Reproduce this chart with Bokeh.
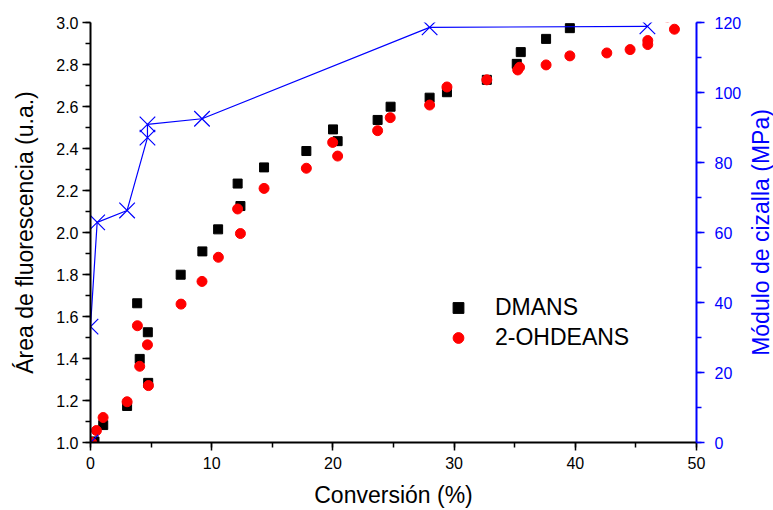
import math
from bokeh.plotting import figure
from bokeh.layouts import row
from bokeh.models import (Range1d, LinearAxis, SingleIntervalTicker,
                          PrintfTickFormatter, Legend, LegendItem)
from bokeh.core.properties import value
from bokeh.embed import file_html
from bokeh.resources import INLINE

# ---- data ----
conv_dmans = [0.33, 1.05, 3.02, 3.85, 4.06, 4.73, 4.76, 7.44, 9.23, 10.53,
              12.14, 12.37, 14.32, 17.81, 20.01, 20.39, 23.69, 24.76, 27.98,
              29.41, 32.7, 35.17, 35.5, 37.59, 39.55]
area_dmans = [1.005, 1.083, 1.174, 1.663, 1.398, 1.525, 1.284, 1.799, 1.910,
              2.015, 2.233, 2.126, 2.310, 2.388, 2.491, 2.435, 2.536, 2.599,
              2.642, 2.668, 2.727, 2.803, 2.859, 2.922, 2.973]

conv_oh = [0.1, 0.49, 1.04, 3.02, 3.87, 4.06, 4.70, 4.78, 7.47, 9.20, 10.55,
           12.37, 12.14, 14.32, 17.81, 19.98, 20.39, 23.69, 24.73, 27.98,
           29.41, 32.7, 35.25, 35.4, 37.59, 39.55, 42.6, 44.52, 45.98, 45.98,
           48.18, 47.6]
area_oh = [1.0, 1.057, 1.119, 1.194, 1.556, 1.363, 1.465, 1.271, 1.659, 1.767,
           1.882, 1.995, 2.112, 2.21, 2.306, 2.429, 2.364, 2.485, 2.547, 2.607,
           2.693, 2.727, 2.774, 2.787, 2.798, 2.841, 2.855, 2.871, 2.914, 2.895,
           2.968, 3.026]

conv_mod = [0, 0, 0.55, 3.02, 4.7, 4.7, 9.2, 27.98, 45.95]
modulus = [0, 33.1, 62.9, 66.3, 87.1, 90.9, 92.5, 118.6, 118.9]

x_label = "Conversión (%)"
y_label = "Área de fluorescencia (u.a.)"
y2_label = "Módulo de cizalla (MPa)"

FONT = "Liberation Sans"
BLUE = "#0000FF"

p = figure(width=745, height=510, output_backend="svg", toolbar_location=None,
           x_range=Range1d(0, 50), y_range=Range1d(1.0, 3.0),
           min_border_left=90, min_border_right=49, min_border_top=22,
           min_border_bottom=68)
p.extra_y_ranges = {"mod": Range1d(0, 120)}
p.grid.visible = False
p.outline_line_color = None
p.background_fill_color = "white"
p.border_fill_color = "white"

sq = p.scatter(conv_dmans, area_dmans, marker="square", size=9,
               fill_color="black", line_color="black")
ci = p.scatter(conv_oh, area_oh, marker="circle", size=10,
               fill_color="red", line_color="red")
p.line(conv_mod, modulus, y_range_name="mod", line_color=BLUE, line_width=1.2)
p.scatter(conv_mod, modulus, y_range_name="mod", marker="x", size=22,
          line_color=BLUE, line_width=1.2)


def style(ax, color):
    ax.axis_line_color = color
    ax.axis_line_width = 2
    ax.major_tick_line_color = color
    ax.minor_tick_line_color = color
    ax.major_tick_line_width = 1.5
    ax.minor_tick_line_width = 1.5
    ax.major_tick_out = 8
    ax.major_tick_in = 0
    ax.minor_tick_out = 5
    ax.minor_tick_in = 0
    ax.major_label_text_font = FONT
    ax.major_label_text_font_size = "16px"
    ax.major_label_text_color = color
    ax.axis_label_text_font = FONT
    ax.axis_label_text_font_size = "23px"
    ax.axis_label_text_font_style = "normal"
    ax.axis_label_text_color = color


xa = p.xaxis[0]
xa.ticker = SingleIntervalTicker(interval=10, num_minor_ticks=2)
xa.axis_label = x_label
style(xa, "black")
xa.major_label_standoff = 6
xa.axis_label_standoff = 10

ya = p.yaxis[0]
ya.ticker = SingleIntervalTicker(interval=0.2, num_minor_ticks=2)
ya.formatter = PrintfTickFormatter(format="%.1f")
ya.axis_label = y_label
style(ya, "black")
ya.major_label_standoff = 4
ya.axis_label_standoff = 15

ra = LinearAxis(y_range_name="mod",
                ticker=SingleIntervalTicker(interval=20, num_minor_ticks=2))
style(ra, BLUE)
ra.major_label_standoff = 10
p.add_layout(ra, "right")

legend = Legend(items=[LegendItem(label="DMANS", renderers=[sq]),
                       LegendItem(label="2-OHDEANS", renderers=[ci])],
                location=(348, 91), border_line_color=None,
                background_fill_alpha=0, label_text_font=FONT,
                label_text_color="black",
                label_text_font_size="23px", glyph_width=40, glyph_height=27,
                label_height=27, label_standoff=17, spacing=3, padding=0,
                margin=0)
p.add_layout(legend)

# narrow strip on the right carrying the right-axis title (reads bottom-to-top)
p2 = figure(width=28, height=510, output_backend="svg", toolbar_location=None,
            x_range=Range1d(0, 28), y_range=Range1d(0, 510), min_border=0)
p2.axis.visible = False
p2.grid.visible = False
p2.outline_line_color = None
p2.text(x=[15.5], y=[255], text=[y2_label], angle=math.pi / 2,
        text_align="center", text_baseline="middle",
        text_font=value(FONT), text_font_size="23px", text_color=BLUE)

layout = row(p, p2)
open("out.html", "w").write(file_html(layout, INLINE))
